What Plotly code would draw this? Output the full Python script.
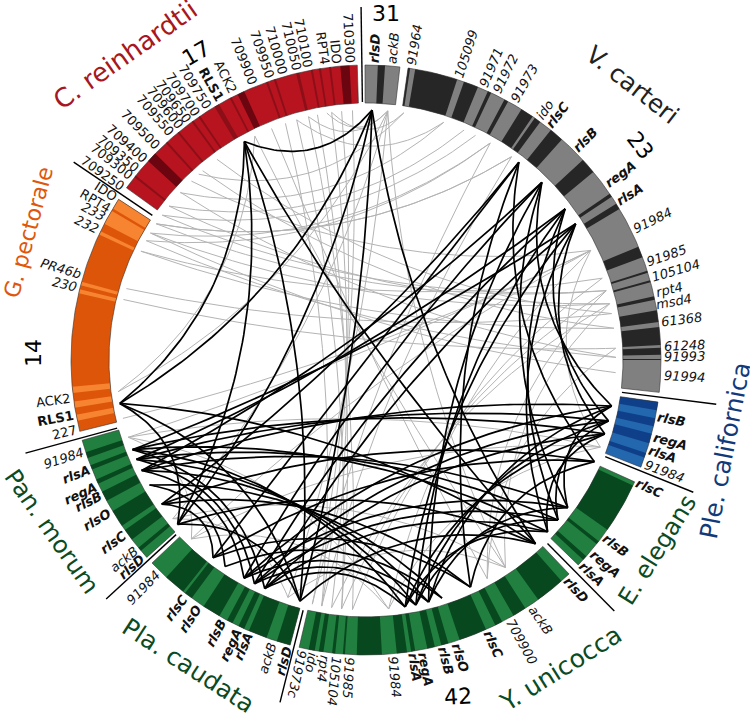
import itertools
import numpy as np
import plotly.graph_objects as go

# ---------- data (angles in degrees, clockwise from 12 o'clock) ----------
sector_names = ["Unnamed", "V. carteri", "Ple. californica", "E. elegans", "Y. unicocca",
                "Pla. caudata", "Pan. morum", "G. pectorale", "C. reinhardtii"]
sector_start = [-0.2, 8.2, 98.2, 114.4, 136.5, 194.9, 228.0, 256.0, 305.7]
sector_end = [6.6, 96.3, 111.3, 134.0, 193.1, 226.5, 254.2, 303.0, 358.3]
separators = [359.2, 97.2, 112.0, 135.3, 194.1, 227.4, 254.7, 304.1]

gray_dark = [(2.3, 3.7), (8.2, 8.6), (9.6, 18), (19.4, 22.3), (24.4, 25.1), (28, 28.8), (31.8, 34.4),
             (34.9, 36.2), (38.8, 41.6), (47.3, 50.4), (55.7, 56.4), (58, 59.2), (67.4, 69.6),
             (72.4, 72.8), (74.3, 74.7), (77.5, 78.2), (80.3, 82.6), (83.6, 87.1), (87.6, 89), (89.8, 90)]
blue_dark = [(98.2, 99.8), (101.4, 103), (104.5, 106.4), (108.4, 109.3)]
green_dark = [(115.2, 125.1), (127.9, 128.6), (131.7, 132.6),
              (138.5, 144.3), (147.3, 150), (152.5, 154), (156, 161.5), (163.8, 165.2), (166.5, 168),
              (170.4, 171.2), (172, 174), (176.9, 181.8), (184.1, 184.5), (186, 186.6), (188.3, 189.2),
              (190, 191.2),
              (194.9, 197.6), (199.7, 203.4), (204.4, 205.6), (206.9, 208.1), (209.8, 213.4), (216.2, 217.8),
              (218.3, 222.6),
              (229.7, 230.5), (232.5, 234.8), (235.8, 239.2), (241.5, 243.5), (245.2, 246.1), (248.2, 249.1),
              (250.6, 251.8)]
orange_light = [(258.1, 259.3), (260.7, 261.9), (263.6, 264.8), (283.1, 283.9), (284.7, 285.4), (295.2, 295.9),
                (297.5, 300.4), (300.9, 303)]
red_thin = [(349.2, 349.6), (350.8, 351.2), (352.8, 353.2), (346.3, 346.9), (341.8, 342.2), (340.2, 340.6),
            (332.5, 332.9), (325.4, 325.8), (323.8, 324.2), (320.3, 320.7), (317.3, 317.7), (308.3, 308.7),
            (329.1, 330.1)]
red_dark = [(355.0, 356.8), (334.2, 335.6), (312.4, 314.4)]

right_labels = ["rlsD", "ackB", "91964", "105099", "91971", "91972", "91973", "ido", "rlsC", "rlsB", "regA", "rlsA",
                "91984", "91985", "105104", "rpt4", "msd4", "61368", "61248", "91993", "91994",
                "rlsB", "regA", "rlsA", "91984", "rlsC", "rlsB", "regA", "rlsA",
                "rlsD", "ackB", "709900", "rlsC", "rlsO", "rlsB", "regA", "rlsA", "91984",
                "91985", "105104", "rpt4", "ido", "91973c"]
right_angles = [1.7, 5.0, 8.7, 18.1, 23.1, 26.0, 29.8, 35.6, 38.0, 44.9, 53.8, 57.8,
                64.0, 70.9, 73.9, 77.0, 79.3, 82.7, 87.3, 89.4, 92.9,
                101.1, 105.0, 107.7, 110.4, 114.4, 126.7, 130.4, 133.5,
                137.6, 146.1, 151.0, 155.9, 162.5, 165.2, 169.0, 171.0, 174.8,
                183.1, 185.6, 187.9, 190.2, 192.4]
left_labels = ["rlsD", "ackB", "rlsA", "regA", "rlsB", "rlsO", "rlsC", "91984",
               "rlsD", "ackB", "rlsC", "rlsO", "rlsB", "regA", "rlsA", "91984",
               "227", "RLS1", "ACK2", "230", "PR46b", "232", "233", "RPT4", "IDO",
               "709250", "709300", "709350", "709400", "709500", "709550", "709600", "709650", "709700", "709750",
               "RLS1", "ACK2", "709900", "709950", "710000", "710050", "710100", "RPT4", "IDO", "710300"]
left_angles = [195.3, 198.2, 203.2, 205.4, 208.7, 214.2, 217.4, 224.3,
               228.5, 230.6, 234.2, 239.3, 243.0, 245.0, 248.4, 252.0,
               256.5, 259.4, 262.7, 284.0, 286.6, 295.8, 298.5, 300.5, 303.0,
               305.4, 308.0, 309.7, 312.1, 315.7, 319.2, 321.4, 323.4, 325.4, 327.9,
               330.7, 333.6, 337.8, 341.2, 343.9, 346.7, 348.8, 352.1, 354.4, 356.9]
bold_genes = ["rlsA", "regA", "rlsB", "rlsO", "rlsC", "rlsD", "RLS1"]
upright_labels = ["RLS1", "ACK2", "RPT4", "IDO", "227"]

counts = ["31", "23", "42", "14", "17"]

rlsA_ends = [57.0, 107.2, 133.4, 171.0, 203.9, 249.0]
regA_ends = [52.8, 104.1, 129.8, 168.5, 206.5, 246.6]
rlsB_ends = [44.7, 100.6, 126.2, 165.5, 209.2, 243.8]
rlsC_ends = [37.7, 114.0, 155.3, 217.7, 234.8]
rlsO_ends = [162.3, 214.3, 240.0]
rlsD_ends = [1.4, 137.3, 195.3, 228.9, 260.0, 330.9]
black_families = [rlsA_ends, regA_ends, rlsB_ends, rlsC_ends, rlsO_ends, rlsD_ends]

gray_from = [354.4, 352.1, 348.8, 346.7, 356.9, 343.9, 341.2, 337.8, 333.6, 333.6,
             303.0, 300.5, 298.5, 5.0, 5.0, 5.0, 198.2, 230.6, 230.6,
             8.7, 18.1, 23.1, 26.0, 29.8, 35.6, 315.7, 295.8, 286.6, 284.0, 298.5, 300.5, 303.0, 295.8, 305.4, 308.0,
             64.0, 64.0, 64.0, 64.0, 110.4, 110.4, 110.4, 174.8, 174.8, 224.3,
             70.9, 73.9, 35.6, 77.0, 29.8, 262.7, 312.1, 319.2, 323.4, 256.5, 151.0, 146.1, 87.3,
             8.7, 5.0, 5.0, 18.1]
gray_to = [190.2, 187.9, 185.6, 183.1, 192.4, 185.6, 190.2, 151.0, 262.7, 146.1,
           35.6, 77.0, 29.8, 230.6, 198.2, 146.1, 146.1, 146.1, 198.2,
           318.0, 312.0, 308.0, 305.4, 300.5, 303.0, 64.0, 82.7, 79.3, 87.3, 89.4, 92.9, 73.9, 70.9, 73.9, 77.0,
           174.8, 224.3, 252.0, 110.4, 174.8, 224.3, 252.0, 224.3, 252.0, 252.0,
           183.1, 185.6, 190.2, 187.9, 192.4, 5.0, 89.4, 82.7, 79.3, 64.0, 73.9, 77.0, 151.0,
           352.1, 351.0, 346.7, 343.9]

# ---------- geometry ----------
CX, CY, R_OUT, R_IN, R_LINK = 366.0, 360.0, 295.0, 257.0, 250.0


def pt(a, r):
    t = np.radians(a)
    return CX + r * np.sin(t), CY - r * np.cos(t)


def band_xy(bands):
    xs, ys = [], []
    for a0, a1 in bands:
        arc = np.linspace(a0, a1, max(2, int(abs(a1 - a0) * 2) + 2))
        x1, y1 = pt(arc, R_OUT)
        x2, y2 = pt(arc[::-1], R_IN)
        xs += list(x1) + list(x2) + [x1[0], None]
        ys += list(y1) + list(y2) + [y1[0], None]
    return xs, ys


def link_xy(pairs):
    xs, ys = [], []
    t = np.linspace(0, 1, 50)
    for a, b in pairs:
        delta = abs(a - b) % 360
        delta = min(delta, 360 - delta)
        f = max(0.0, 0.95 - 0.0057 * delta)
        mid = np.radians(a) + np.arctan2(np.sin(np.radians(b - a)), np.cos(np.radians(b - a))) / 2
        cxp, cyp = CX + 250 * f * np.sin(mid), CY - 250 * f * np.cos(mid)
        x0, y0 = pt(a, R_LINK)
        x1, y1 = pt(b, R_LINK)
        xs += list((1 - t) ** 2 * x0 + 2 * t * (1 - t) * cxp + t ** 2 * x1) + [None]
        ys += list((1 - t) ** 2 * y0 + 2 * t * (1 - t) * cyp + t ** 2 * y1) + [None]
    return xs, ys


def add_line(fig, xs, ys, color, width):
    fig.add_trace(go.Scatter(x=xs, y=ys, mode="lines", line=dict(color=color, width=width),
                             hoverinfo="skip", showlegend=False))


def add_fill(fig, bands, color):
    xs, ys = band_xy(bands)
    fig.add_trace(go.Scatter(x=xs, y=ys, mode="lines", fill="toself", fillcolor=color, line=dict(width=0),
                             hoverinfo="skip", showlegend=False))


fig = go.Figure()

gx, gy = link_xy(list(zip(gray_from, gray_to)))
add_line(fig, gx, gy, "#b4b4b4", 1.0)
black_pairs = [p for fam in black_families for p in itertools.combinations(fam, 2)]
bx, by = link_xy(black_pairs)
add_line(fig, bx, by, "#000000", 1.7)

base_colors = ["#808080", "#808080", "#2367ae", "#21803f", "#21803f", "#21803f", "#21803f", "#dd5508", "#b8141f"]
for s, e, c in zip(sector_start, sector_end, base_colors):
    add_fill(fig, [(s, e)], c)
add_fill(fig, gray_dark, "#262626")
add_fill(fig, blue_dark, "#0f3f88")
add_fill(fig, green_dark, "#07481e")
add_fill(fig, orange_light, "#f78431")
add_fill(fig, red_thin, "#8c0f18")
add_fill(fig, red_dark, "#6b0510")

for s, e in zip(sector_start, sector_end):
    arc = np.linspace(s, e, int((e - s) * 2) + 2)
    x1, y1 = pt(arc, R_OUT)
    x2, y2 = pt(arc[::-1], R_IN)
    add_line(fig, list(x1) + list(x2) + [x1[0]], list(y1) + list(y2) + [y1[0]], "#333333", 0.6)

sx, sy = [], []
for a in separators:
    x0, y0 = pt(a, 258)
    x1, y1 = pt(a, 353)
    sx += [x0, x1, None]
    sy += [y0, y1, None]
add_line(fig, sx, sy, "#000000", 1.4)

CHAR_W = {"i": .28, "l": .28, "r": .41, "s": .52, "t": .39, "I": .3, "c": .55, "k": .58, "D": .77, "O": .79,
          "R": .70, "P": .60, "T": .61, "K": .66, "A": .68, "C": .70, "L": .56, "S": .63}
LABEL_SIZE = 13


def label(text, a, left):
    bold = text in bold_genes
    upright = text in upright_labels or (left and a > 305 and text.isdigit())
    w = sum(CHAR_W.get(ch, 0.63) for ch in text) * LABEL_SIZE * (1.1 if bold else 1.0)
    x, y = pt(a, 298 + w / 2)
    rot = a + 90 if left else a - 90
    fig.add_annotation(x=x, y=y, text=text, showarrow=False, xanchor="center", yanchor="middle",
                       textangle=((rot + 180) % 360) - 180,
                       font=dict(family="DejaVu Sans", size=LABEL_SIZE, color="#111111",
                                 weight=700 if bold else 400,
                                 style="normal" if upright else "italic"))


for t, a in zip(right_labels, right_angles):
    label(t, a, False)
for t, a in zip(left_labels, left_angles):
    label(t, a, True)

count_pos = [(3.3, 347, 0), (52, 348, 52), (164.7, 349, -3), (271.2, 333, -90), (331, 351, -30)]
for t, (a, r, rot) in zip(counts, count_pos):
    x, y = pt(a, r)
    fig.add_annotation(x=x, y=y, text=t, showarrow=False, xanchor="center", yanchor="middle", textangle=rot,
                       font=dict(family="DejaVu Sans", size=22, color="#000000"))

name_pos = {"V. carteri": (44, 383, 38, "#222222", 24.5), "Ple. californica": (104.1, 370, -79, "#123a7a", 24.6),
            "E. elegans": (123.1, 347.5, -58, "#0b4a22", 24), "Y. unicocca": (147.7, 365, -32, "#0b4a22", 25),
            "Pla. caudata": (210.2, 353, 33, "#0b4a22", 24.5), "Pan. morum": (241.3, 358, 55, "#0b4a22", 24),
            "G. pectorale": (290.7, 361, -75, "#e0560a", 22), "C. reinhardtii": (321.7, 389, -35, "#a81620", 26)}
for n in sector_names:
    if n in name_pos:
        a, r, rot, col, size = name_pos[n]
        x, y = pt(a, r)
        fig.add_annotation(x=x, y=y, text=n, showarrow=False, xanchor="center", yanchor="middle", textangle=rot,
                           font=dict(family="DejaVu Sans", size=size, color=col))

fig.update_layout(width=750, height=715, margin=dict(l=0, r=0, t=0, b=0), plot_bgcolor="white", paper_bgcolor="white",
                  showlegend=False,
                  xaxis=dict(range=[0, 750], visible=False, fixedrange=True),
                  yaxis=dict(range=[715, 0], visible=False, fixedrange=True))
fig.write_html("out.html", config={"displayModeBar": False},
               post_script="document.body.style.margin='0';document.body.style.overflow='hidden';")
